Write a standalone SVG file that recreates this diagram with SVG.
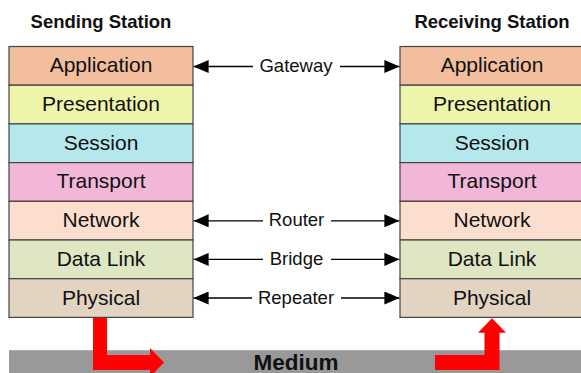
<svg xmlns="http://www.w3.org/2000/svg" width="581" height="373" viewBox="0 0 581 373">
  <style>
    .title { font-family: "Liberation Sans", Arial, sans-serif; font-size: 18.5px; font-weight: bold; fill: #111; text-anchor: middle; }
    .layer rect { stroke: #444; stroke-width: 1.2; }
    .layer text { font-family: "Liberation Sans", Arial, sans-serif; font-size: 21px; fill: #111; text-anchor: middle; }
    .lbl { font-family: "Liberation Sans", Arial, sans-serif; font-size: 18.5px; fill: #111; text-anchor: middle; }
    .link { stroke: #000; stroke-width: 1.3; fill: none; }
    .flow { fill: #ff0000; }
    .medium { font-family: "Liberation Sans", Arial, sans-serif; font-size: 22.5px; font-weight: bold; fill: #111; text-anchor: middle; }
  </style>
  <defs>
    <marker id="head" viewBox="0 0 15 13" refX="15" refY="6.5" markerWidth="15" markerHeight="13" markerUnits="userSpaceOnUse" orient="auto">
      <path d="M0,0 L15,6.5 L0,13 Z" fill="#000"/>
    </marker>
  </defs>

  <rect width="581" height="373" fill="#fff"/>

  <!-- station headings -->
  <text class="title" x="101" y="28.3">Sending Station</text>
  <text class="title" x="492" y="28.3">Receiving Station</text>

  <!-- transmission medium -->
  <g id="medium">
    <rect x="9" y="350" width="580" height="30" fill="#999999"/>
    <line x1="9" y1="350.5" x2="581" y2="350.5" stroke="#adadad" stroke-width="1"/>
    <text class="medium" x="296" y="370">Medium</text>
  </g>

  <!-- sending stack -->
  <g id="send-application" class="layer"><rect x="9" y="46.5" width="184" height="38.7" fill="#F3BE9E"/><text x="101" y="72.3">Application</text></g>
  <g id="send-presentation" class="layer"><rect x="9" y="85.2" width="184" height="38.7" fill="#EEF4AA"/><text x="101" y="111">Presentation</text></g>
  <g id="send-session" class="layer"><rect x="9" y="123.9" width="184" height="38.7" fill="#B4E8EC"/><text x="101" y="149.8">Session</text></g>
  <g id="send-transport" class="layer"><rect x="9" y="162.6" width="184" height="38.7" fill="#F2B6D8"/><text x="101" y="188.3">Transport</text></g>
  <g id="send-network" class="layer"><rect x="9" y="201.3" width="184" height="38.7" fill="#FCDECE"/><text x="101" y="227.4">Network</text></g>
  <g id="send-datalink" class="layer"><rect x="9" y="240" width="184" height="38.7" fill="#DEE6C4"/><text x="101" y="265.9">Data Link</text></g>
  <g id="send-physical" class="layer"><rect x="9" y="278.7" width="184" height="38.7" fill="#E2D4C0"/><text x="101" y="304.6">Physical</text></g>

  <!-- receiving stack -->
  <g id="recv-application" class="layer"><rect x="400" y="46.5" width="184" height="38.7" fill="#F3BE9E"/><text x="492" y="72.3">Application</text></g>
  <g id="recv-presentation" class="layer"><rect x="400" y="85.2" width="184" height="38.7" fill="#EEF4AA"/><text x="492" y="111">Presentation</text></g>
  <g id="recv-session" class="layer"><rect x="400" y="123.9" width="184" height="38.7" fill="#B4E8EC"/><text x="492" y="149.8">Session</text></g>
  <g id="recv-transport" class="layer"><rect x="400" y="162.6" width="184" height="38.7" fill="#F2B6D8"/><text x="492" y="188.3">Transport</text></g>
  <g id="recv-network" class="layer"><rect x="400" y="201.3" width="184" height="38.7" fill="#FCDECE"/><text x="492" y="227.4">Network</text></g>
  <g id="recv-datalink" class="layer"><rect x="400" y="240" width="184" height="38.7" fill="#DEE6C4"/><text x="492" y="265.9">Data Link</text></g>
  <g id="recv-physical" class="layer"><rect x="400" y="278.7" width="184" height="38.7" fill="#E2D4C0"/><text x="492" y="304.6">Physical</text></g>

  <!-- peer-layer devices -->
  <g id="connectors">
    <line class="link" x1="253" y1="66.5" x2="193.6" y2="66.5" marker-end="url(#head)"/>
    <line class="link" x1="340" y1="66.5" x2="399.4" y2="66.5" marker-end="url(#head)"/>
    <line class="link" x1="263" y1="220.8" x2="193.6" y2="220.8" marker-end="url(#head)"/>
    <line class="link" x1="331" y1="220.8" x2="399.4" y2="220.8" marker-end="url(#head)"/>
    <line class="link" x1="263" y1="259.4" x2="193.6" y2="259.4" marker-end="url(#head)"/>
    <line class="link" x1="331" y1="259.4" x2="399.4" y2="259.4" marker-end="url(#head)"/>
    <line class="link" x1="252" y1="298" x2="193.6" y2="298" marker-end="url(#head)"/>
    <line class="link" x1="341" y1="298" x2="399.4" y2="298" marker-end="url(#head)"/>

    <!-- signal onto and off the medium -->
    <path class="flow" d="M93,318 L107,318 L107,355 L150,355 L150,348 L164,362.5 L150,377 L150,370 L93,370 Z"/>
    <path class="flow" d="M435,355 L484.5,355 L484.5,332.7 L478,332.7 L492,318.2 L506,332.7 L499.5,332.7 L499.5,370 L435,370 Z"/>
  </g>

  <text class="lbl" x="296" y="72.3">Gateway</text>
  <text class="lbl" x="296.5" y="226.3">Router</text>
  <text class="lbl" x="296.5" y="264.9">Bridge</text>
  <text class="lbl" x="296" y="303.5">Repeater</text>
</svg>
